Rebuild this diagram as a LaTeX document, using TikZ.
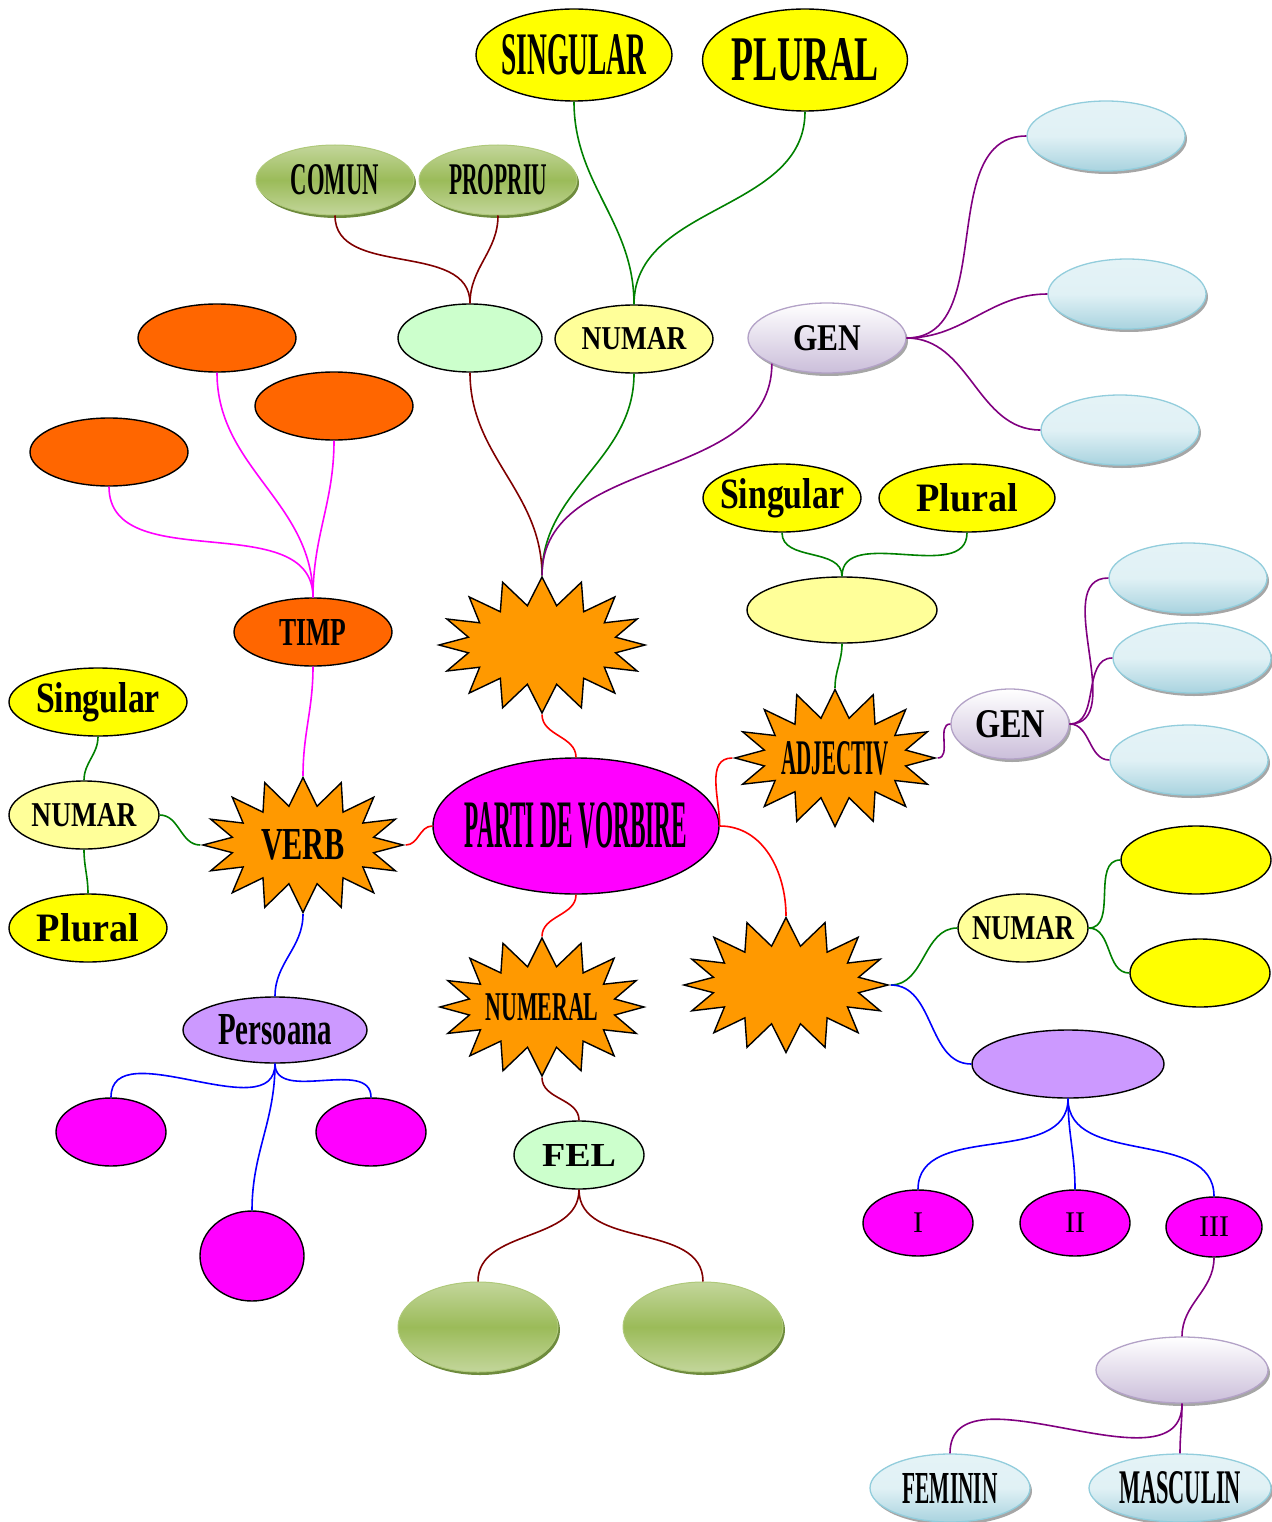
\documentclass[tikz,border=0pt]{standalone}
\usepackage{graphicx}
\usepackage{fontspec}
\setmainfont{Liberation Serif}
\usepackage{tikz}
\usetikzlibrary{shapes.geometric,shapes.symbols,shadows}
\definecolor{orng}{HTML}{FF9900}
\definecolor{ornb}{HTML}{FF6600}
\definecolor{yelw}{HTML}{FFFF00}
\definecolor{lyelw}{HTML}{FFFF99}
\definecolor{lgreen}{HTML}{CCFFCC}
\definecolor{lilac}{HTML}{CC99FF}
\definecolor{magen}{HTML}{FF00FF}
\definecolor{dred}{HTML}{800000}
\definecolor{dgrn}{HTML}{008000}
\definecolor{dprp}{HTML}{800080}
\definecolor{gra}{HTML}{C3D69B}
\definecolor{grb}{HTML}{9BBB59}
\definecolor{grs}{HTML}{6E8B3D}
\definecolor{bla}{HTML}{D3EBF1}
\definecolor{blb}{HTML}{A9D3DF}
\definecolor{blr}{HTML}{92CDDC}
\definecolor{lva}{HTML}{FFFFFF}
\definecolor{lvb}{HTML}{CBBEDA}
\definecolor{lvr}{HTML}{B3A2C7}
\newcommand{\lbl}[3]{\resizebox{#1pt}{#2pt}{\bfseries #3}}
\tikzset{ell/.style={ellipse,draw,line width=1.4pt,inner sep=0pt},
  yel/.style={ell,fill=yelw},
  lyel/.style={ell,fill=lyelw},
  lgrn/.style={ell,fill=lgreen},
  orn/.style={ell,fill=ornb},
  mag/.style={ell,fill=magen},
  lil/.style={ell,fill=lilac},
  burst/.style={starburst,starburst points=16,starburst point height=28pt,random starburst=0,draw,line width=1.4pt,fill=orng,inner sep=0pt},
  glgrn/.style={ellipse,inner sep=0pt,draw=grb!80!white,line width=1pt,top color=gra,bottom color=gra,middle color=grb,drop shadow={shadow xshift=2pt,shadow yshift=-3pt,fill=grs,opacity=1}},
  glblu/.style={ellipse,inner sep=0pt,draw=blr,line width=1.3pt,top color=bla!60!white,bottom color=blb,middle color=bla!70!white,drop shadow={shadow xshift=2pt,shadow yshift=-3pt,fill=gray!70,opacity=1}},
  gllav/.style={ellipse,inner sep=0pt,draw=lvr,line width=1.3pt,top color=lva,bottom color=lvb,drop shadow={shadow xshift=2pt,shadow yshift=-3pt,fill=gray!70,opacity=1}},
  lnk/.style={line width=1.6pt}}

\begin{document}
\begin{tikzpicture}[x=1pt,y=1pt]
    \useasboundingbox (0,0) rectangle (1271,-1522);

    \node[yel,minimum width=196pt,minimum height=92pt,label=center:{\lbl{145}{40}{SINGULAR}}] (sgu) at (574,-55) {};
    \node[yel,minimum width=205pt,minimum height=102pt,label=center:{\lbl{148}{42}{PLURAL}}] (plu) at (805,-60) {};
    \node[glgrn,minimum width=158pt,minimum height=70pt,label=center:{\lbl{88}{30}{COMUN}}] (com) at (335,-180) {};
    \node[glgrn,minimum width=158pt,minimum height=70pt,label=center:{\lbl{98}{30}{PROPRIU}}] (prop) at (498,-180) {};
    \node[lgrn,minimum width=144pt,minimum height=68pt] (tip) at (470,-338) {};
    \node[lyel,minimum width=158pt,minimum height=68pt,label=center:{\lbl{105}{22}{NUMAR}}] (num1) at (634,-339) {};
    \node[gllav,minimum width=158pt,minimum height=70pt,label=center:{\lbl{68}{25}{GEN}}] (gen1) at (827,-338) {};
    \node[glblu,minimum width=158pt,minimum height=70pt] (b1) at (1106,-136) {};
    \node[glblu,minimum width=158pt,minimum height=70pt] (b2) at (1127,-294) {};
    \node[glblu,minimum width=158pt,minimum height=70pt] (b3) at (1120,-430) {};
    \node[orn,minimum width=158pt,minimum height=68pt] (o1) at (217,-338) {};
    \node[orn,minimum width=158pt,minimum height=68pt] (o2) at (334,-406) {};
    \node[orn,minimum width=158pt,minimum height=68pt] (o3) at (109,-452) {};
    \node[orn,minimum width=158pt,minimum height=68pt,label=center:{\lbl{67}{26}{TIMP}}] (timp) at (313,-632) {};
    \node[burst,minimum width=206pt,minimum height=136pt] (st1) at (542,-645) {};
    \node[yel,minimum width=158pt,minimum height=68pt,label=center:{\lbl{124}{30}{Singular}}] (sga) at (782,-498) {};
    \node[yel,minimum width=176pt,minimum height=68pt,label=center:{\lbl{102}{28}{Plural}}] (pla) at (967,-498) {};
    \node[lyel,minimum width=190pt,minimum height=66pt] (nadj) at (842,-610) {};
    \node[burst,minimum width=200pt,minimum height=137pt,label=center:{\lbl{107}{33}{ADJECTIV}}] (adj) at (835,-758) {};
    \node[gllav,minimum width=118pt,minimum height=70pt,label=center:{\lbl{70}{27}{GEN}}] (gen2) at (1010,-724) {};
    \node[glblu,minimum width=158pt,minimum height=70pt] (b4) at (1188,-578) {};
    \node[glblu,minimum width=158pt,minimum height=70pt] (b5) at (1192,-658) {};
    \node[glblu,minimum width=158pt,minimum height=70pt] (b6) at (1189,-760) {};
    \node[mag,minimum width=286pt,minimum height=136pt,label=center:{\lbl{222}{45}{PARTI DE VORBIRE}}] (par) at (576,-826) {};
    \node[burst,minimum width=200pt,minimum height=135pt,label=center:{\lbl{84}{30}{VERB}}] (verb) at (303,-845) {};
    \node[yel,minimum width=178pt,minimum height=68pt,label=center:{\lbl{124}{30}{Singular}}] (sgv) at (98,-702) {};
    \node[lyel,minimum width=150pt,minimum height=68pt,label=center:{\lbl{105}{23}{NUMAR}}] (num2) at (84,-815) {};
    \node[yel,minimum width=158pt,minimum height=68pt,label=center:{\lbl{102}{28}{Plural}}] (plv) at (88,-928) {};
    \node[burst,minimum width=204pt,minimum height=138pt,label=center:{\lbl{113}{27}{NUMERAL}}] (nml) at (542,-1007) {};
    \node[burst,minimum width=204pt,minimum height=135pt] (st2) at (786,-985) {};
    \node[lyel,minimum width=130pt,minimum height=68pt,label=center:{\lbl{102}{23}{NUMAR}}] (num3) at (1023,-928) {};
    \node[yel,minimum width=150pt,minimum height=68pt] (y1) at (1196,-860) {};
    \node[yel,minimum width=140pt,minimum height=68pt] (y2) at (1200,-973) {};
    \node[lil,minimum width=192pt,minimum height=68pt] (prs) at (1068,-1064) {};
    \node[mag,minimum width=110pt,minimum height=66pt,font=\fontsize{30}{30}\selectfont] (p1) at (918,-1223) {I};
    \node[mag,minimum width=110pt,minimum height=66pt,font=\fontsize{30}{30}\selectfont] (p2) at (1075,-1223) {II};
    \node[mag,minimum width=96pt,minimum height=60pt,font=\fontsize{30}{30}\selectfont] (p3) at (1214,-1227) {III};
    \node[gllav,minimum width=172pt,minimum height=66pt] (lav) at (1182,-1370) {};
    \node[glblu,minimum width=160pt,minimum height=68pt,label=center:{\lbl{95}{30}{FEMININ}}] (fem) at (950,-1488) {};
    \node[glblu,minimum width=182pt,minimum height=68pt,label=center:{\lbl{122}{32}{MASCULIN}}] (masc) at (1180,-1488) {};
    \node[lil,minimum width=184pt,minimum height=66pt,label=center:{\lbl{114}{30}{Persoana}}] (pers) at (275,-1030) {};
    \node[mag,minimum width=110pt,minimum height=68pt] (m1) at (111,-1132) {};
    \node[mag,minimum width=110pt,minimum height=68pt] (m2) at (371,-1132) {};
    \node[mag,minimum width=104pt,minimum height=90pt] (m3) at (252,-1256) {};
    \node[lgrn,minimum width=130pt,minimum height=68pt,label=center:{\lbl{74}{22}{FEL}}] (fel) at (579,-1155) {};
    \node[glgrn,minimum width=160pt,minimum height=90pt] (g1) at (478,-1327) {};
    \node[glgrn,minimum width=160pt,minimum height=90pt] (g2) at (703,-1327) {};

    \draw [lnk,dred] (st1.north) to [out=90,in=-90] (tip.south);
    \draw [lnk,dgrn] (st1.north) to [out=90,in=-90] (num1.south);
    \draw [lnk,dprp] (st1.north) to [out=90,in=-90] (gen1.205);
    \draw [lnk,dred] (tip.north) to [out=90,in=-90] (com.south);
    \draw [lnk,dred] (tip.north) to [out=90,in=-90] (prop.south);
    \draw [lnk,dgrn] (num1.north) to [out=90,in=-90] (sgu.south);
    \draw [lnk,dgrn] (num1.north) to [out=90,in=-90] (plu.south);
    \foreach \b in {b1,b2,b3}
        \draw [lnk,dprp] (gen1.east) to [out=0,in=180] (\b.west);

    \draw [lnk,red] (par.north) to [out=90,in=-90] (st1.south);
    \draw [lnk,red] (par.east) to [out=90,in=180] (adj.west);
    \draw [lnk,red] (par.east) to [out=0,in=90] (st2.north);
    \draw [lnk,red] (par.south) to [out=-90,in=90] (nml.north);
    \draw [lnk,red] (par.west) to [out=180,in=0] (verb.east);

    \draw [lnk,dgrn] (adj.north) to [out=90,in=-90] (nadj.south);
    \draw [lnk,dgrn] (nadj.north) to [out=90,in=-90] (sga.south);
    \draw [lnk,dgrn] (nadj.north) to [out=90,in=-90] (pla.south);
    \draw [lnk,dprp] (adj.east) to [out=0,in=180] (gen2.west);
    \foreach \b in {b4,b5,b6}
        \draw [lnk,dprp] (gen2.east) to [out=0,in=180] (\b.west);

    \draw [lnk,magen] (verb.north) to [out=90,in=-90] (timp.south);
    \foreach \o in {o1,o2,o3}
        \draw [lnk,magen] (timp.north) to [out=90,in=-90] (\o.south);
    \draw [lnk,dgrn] (verb.west) to [out=180,in=0] (num2.east);
    \draw [lnk,dgrn] (num2.north) to [out=90,in=-90] (sgv.south);
    \draw [lnk,dgrn] (num2.south) to [out=-90,in=90] (plv.north);
    \draw [lnk,blue] (verb.south) to [out=-90,in=90] (pers.north);
    \foreach \m in {m1,m2,m3}
        \draw [lnk,blue] (pers.south) to [out=-90,in=90] (\m.north);

    \draw [lnk,dred] (nml.south) to [out=-90,in=90] (fel.north);
    \draw [lnk,dred] (fel.south) to [out=-90,in=90] (g1.north);
    \draw [lnk,dred] (fel.south) to [out=-90,in=90] (g2.north);

    \draw [lnk,dgrn] (st2.east) to [out=0,in=180] (num3.west);
    \draw [lnk,blue] (st2.east) to [out=0,in=180] (prs.west);
    \draw [lnk,dgrn] (num3.east) to [out=0,in=180] (y1.west);
    \draw [lnk,dgrn] (num3.east) to [out=0,in=180] (y2.west);
    \foreach \p in {p1,p2,p3}
        \draw [lnk,blue] (prs.south) to [out=-90,in=90] (\p.north);
    \draw [lnk,dprp] (p3.south) to [out=-90,in=90] (lav.north);
    \draw [lnk,dprp] (lav.south) to [out=-90,in=90] (fem.north);
    \draw [lnk,dprp] (lav.south) to [out=-90,in=90] (masc.north);
\end{tikzpicture}
\end{document}
